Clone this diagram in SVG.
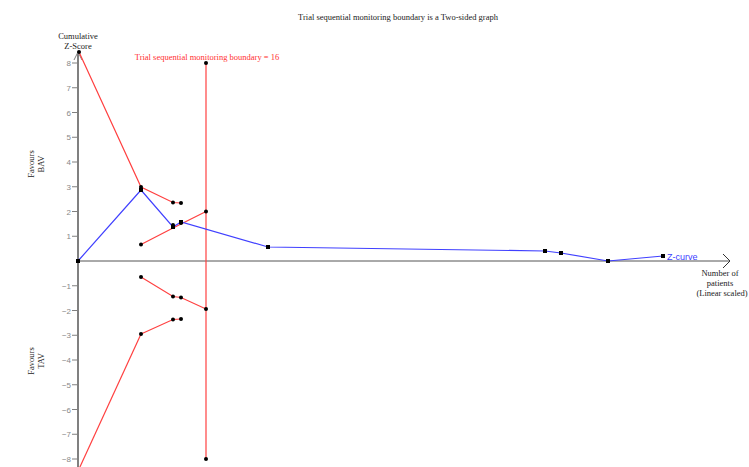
<svg xmlns="http://www.w3.org/2000/svg" width="749" height="467" viewBox="0 0 749 467">
<defs>
<style>
.serif{font-family:"Liberation Serif","Times New Roman",serif;fill:#222;font-size:8.5px}
.tick{font-family:"Liberation Sans",Arial,sans-serif;font-size:8px;fill:#888;text-anchor:end}
.red{fill:none;stroke:#ff4040;stroke-width:1.2}
.blue{fill:none;stroke:#4040ff;stroke-width:1.2}
.dot{fill:#000}
</style>
</defs>
<rect width="749" height="467" fill="#fff"/>
<text class="serif" x="398" y="20" text-anchor="middle">Trial sequential monitoring boundary is a Two-sided graph</text>
<g id="axes">
<line x1="78" y1="54" x2="78" y2="467" stroke="#808080" stroke-width="2"/>
<polyline points="74,60 78,52 82,60" fill="none" stroke="#808080" stroke-width="1"/>
<line x1="78" y1="261" x2="730" y2="261" stroke="#555" stroke-width="1"/>
<polyline points="723,254 730,261 723,268" fill="none" stroke="#333" stroke-width="1"/>
<g stroke="#808080" stroke-width="1">
<line x1="72" y1="63" x2="78" y2="63"/><line x1="72" y1="87.75" x2="78" y2="87.75"/><line x1="72" y1="112.5" x2="78" y2="112.5"/><line x1="72" y1="137.25" x2="78" y2="137.25"/><line x1="72" y1="162" x2="78" y2="162"/><line x1="72" y1="186.75" x2="78" y2="186.75"/><line x1="72" y1="211.5" x2="78" y2="211.5"/><line x1="72" y1="236.25" x2="78" y2="236.25"/>
<line x1="72" y1="285.75" x2="78" y2="285.75"/><line x1="72" y1="310.5" x2="78" y2="310.5"/><line x1="72" y1="335.25" x2="78" y2="335.25"/><line x1="72" y1="360" x2="78" y2="360"/><line x1="72" y1="384.75" x2="78" y2="384.75"/><line x1="72" y1="409.5" x2="78" y2="409.5"/><line x1="72" y1="434.25" x2="78" y2="434.25"/><line x1="72" y1="459" x2="78" y2="459"/>
</g>
<text class="tick" x="71" y="66">8</text><text class="tick" x="71" y="90.75">7</text><text class="tick" x="71" y="115.5">6</text><text class="tick" x="71" y="140.25">5</text><text class="tick" x="71" y="165">4</text><text class="tick" x="71" y="189.75">3</text><text class="tick" x="71" y="214.5">2</text><text class="tick" x="71" y="239.25">1</text>
<text class="tick" x="71" y="288.75">−1</text><text class="tick" x="71" y="313.5">−2</text><text class="tick" x="71" y="338.25">−3</text><text class="tick" x="71" y="363">−4</text><text class="tick" x="71" y="387.75">−5</text><text class="tick" x="71" y="412.5">−6</text><text class="tick" x="71" y="437.25">−7</text><text class="tick" x="71" y="462">−8</text>
<text class="serif" x="78" y="39" text-anchor="middle">Cumulative</text>
<text class="serif" x="78" y="49" text-anchor="middle">Z-Score</text>
<text class="serif" text-anchor="middle" transform="translate(34,164) rotate(-90)">Favours</text>
<text class="serif" text-anchor="middle" transform="translate(44,164) rotate(-90)">BAV</text>
<text class="serif" text-anchor="middle" transform="translate(34,361) rotate(-90)">Favours</text>
<text class="serif" text-anchor="middle" transform="translate(44,361) rotate(-90)">TAV</text>
<text class="serif" x="720" y="276" font-size="9" text-anchor="middle">Number of</text>
<text class="serif" x="720" y="286" font-size="9" text-anchor="middle">patients</text>
<text class="serif" x="722" y="296" font-size="9" text-anchor="middle">(Linear scaled)</text>
</g>
<g id="connectors">
<line class="red" x1="206" y1="63" x2="206" y2="459"/>
<polyline class="red" points="79,52 141,187 173,202.5 181,203"/>
<polyline class="red" points="141,244.5 173,228 181,224 206,211.5"/>
<polyline class="red" points="141,277 173,296.5 181,297.5 206,309"/>
<polyline class="red" points="141,334 173,319.5 181,319"/>
<polyline class="red" points="141,334 79,469"/>
<polyline class="blue" points="78,261 141,190 173,227 181,222 268,247 545,251 561,253 608,261 663,256"/>
</g>
<g id="boundary-label">
<text x="207" y="60" font-family="'Liberation Serif','Times New Roman',serif" font-size="8.5" fill="#ff3030" text-anchor="middle">Trial sequential monitoring boundary = 16</text>
</g>
<g id="boundary-points">
<circle class="dot" cx="79" cy="52" r="2"/>
<circle class="dot" cx="141" cy="187" r="2"/><circle class="dot" cx="173" cy="202.5" r="2"/><circle class="dot" cx="181" cy="203" r="2"/>
<circle class="dot" cx="141" cy="244.5" r="2"/><circle class="dot" cx="173" cy="225" r="2"/><circle class="dot" cx="181" cy="223" r="2"/><circle class="dot" cx="206" cy="211.5" r="2"/>
<circle class="dot" cx="141" cy="277" r="2"/><circle class="dot" cx="173" cy="296.5" r="2"/><circle class="dot" cx="181" cy="297.5" r="2"/><circle class="dot" cx="206" cy="309" r="2"/>
<circle class="dot" cx="141" cy="334" r="2"/><circle class="dot" cx="173" cy="319.5" r="2"/><circle class="dot" cx="181" cy="319" r="2"/>
<circle class="dot" cx="206" cy="63" r="2"/><circle class="dot" cx="206" cy="459" r="2"/>
</g>
<g id="z-curve">
<rect class="dot" x="76" y="259" width="4" height="4"/>
<rect class="dot" x="139" y="188" width="4" height="4"/>
<rect class="dot" x="171" y="225" width="4" height="4"/>
<rect class="dot" x="179" y="220" width="4" height="4"/>
<rect class="dot" x="266" y="245" width="4" height="4"/>
<rect class="dot" x="543" y="249" width="4" height="4"/>
<rect class="dot" x="559" y="251" width="4" height="4"/>
<rect class="dot" x="606" y="259" width="4" height="4"/>
<rect class="dot" x="661" y="254" width="4" height="4"/>
<text x="667" y="260" font-family="'Liberation Sans',Arial,sans-serif" font-size="9" fill="#4040ff">Z-curve</text>
</g>
</svg>
